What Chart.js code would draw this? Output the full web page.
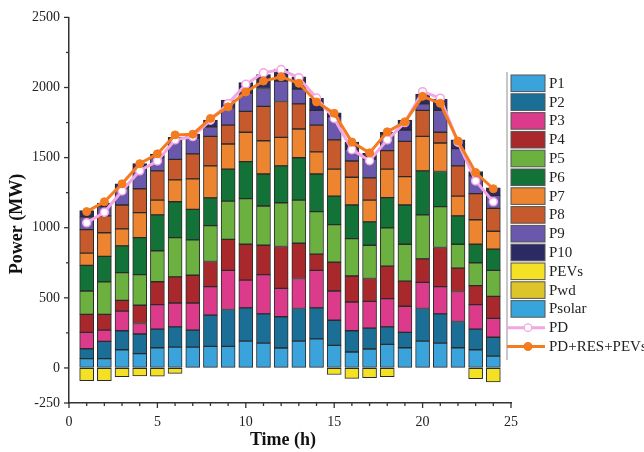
<!DOCTYPE html>
<html lang="en">
<head>
  <meta charset="UTF-8">
  <title>Hourly power dispatch</title>
  <script src="https://cdn.jsdelivr.net/npm/chart.js"></script>
  <style>
    body, html {
      width: 644px;
      height: 452px;
      margin: 0;
      padding: 0;
      overflow: hidden;
      background: #fff;
    }
    #chart { display: block; }
  </style>
</head>
<body>
  <canvas id="chart" width="644" height="452"></canvas>

  <script>
    // hours 1..24, values in MW
    const hours = [1, 2, 3, 4, 5, 6, 7, 8, 9, 10, 11, 12, 13, 14, 15, 16, 17, 18, 19, 20, 21, 22, 23, 24];

    const P1  = [67, 67, 130, 102, 144, 149, 149, 154, 154, 191, 177, 142, 191, 207, 161, 114, 135, 168, 144, 191, 177, 144, 130, 84];
    const P2  = [70, 123, 135, 140, 133, 144, 121, 223, 263, 237, 209, 223, 233, 221, 179, 151, 149, 125, 110, 233, 209, 187, 147, 135];
    const P3  = [117, 80, 140, 75, 175, 170, 193, 203, 279, 198, 280, 203, 214, 268, 209, 205, 191, 201, 186, 186, 194, 214, 175, 135];
    const P4  = [128, 112, 77, 130, 163, 187, 198, 179, 221, 256, 209, 298, 251, 116, 205, 186, 163, 232, 179, 168, 279, 167, 135, 156];
    const P5  = [167, 232, 198, 219, 221, 279, 252, 256, 273, 326, 280, 312, 308, 303, 268, 266, 237, 273, 263, 314, 291, 170, 163, 186];
    const P6  = [182, 182, 191, 263, 256, 256, 218, 198, 228, 263, 228, 263, 302, 268, 203, 240, 167, 216, 280, 314, 251, 203, 132, 151];
    const P7  = [88, 168, 121, 179, 105, 156, 217, 228, 179, 210, 237, 203, 205, 158, 193, 198, 155, 203, 202, 245, 203, 140, 175, 128];
    const P8  = [168, 121, 170, 170, 209, 147, 179, 210, 135, 149, 245, 256, 179, 191, 209, 116, 159, 132, 252, 186, 77, 216, 186, 163];
    const P9  = [90, 65, 118, 142, 94, 137, 113, 69, 118, 130, 128, 146, 105, 105, 163, 84, 134, 108, 81, 46, 156, 123, 128, 93];
    const P10 = [45, 25, 33, 37, 25, 19, 27, 47, 60, 75, 100, 86, 89, 86, 30, 51, 40, 23, 70, 70, 81, 63, 30, 54];
    const PEVs   = [-90, -90, -63, -56, -59, -39, 0, 0, 0, 0, 0, 0, 0, 0, -47, -74, -70, -63, 0, 0, 0, 0, -77, -100];
    const Pwd    = [0, 0, 0, 0, 0, 0, 0, 0, 0, 0, 0, 0, 0, 0, 0, 0, 0, 0, 0, 0, 0, 0, 0, 0];
    const Psolar = [0, 0, 0, 0, 0, 0, 0, 0, 0, 0, 0, 0, 0, 0, 0, 0, 0, 0, 0, 0, 0, 0, 0, 0];

    const PD    = [1035, 1110, 1262, 1406, 1476, 1627, 1650, 1767, 1885, 2023, 2105, 2128, 2070, 1925, 1779, 1557, 1478, 1627, 1750, 1970, 1924, 1610, 1334, 1185];
    const PDRES = [1115, 1185, 1313, 1457, 1527, 1662, 1667, 1779, 1862, 1968, 2046, 2077, 2030, 1897, 1816, 1611, 1534, 1684, 1755, 1937, 1887, 1618, 1394, 1278];

    const serif = "'Liberation Serif', 'Times New Roman', serif";
    Chart.defaults.font.family = serif;
    Chart.defaults.color = '#222';

    const barSeries = [
      ['P1', P1, '#3ba3dc'],
      ['P2', P2, '#1b6e96'],
      ['P3', P3, '#dc3a8a'],
      ['P4', P4, '#a8282c'],
      ['P5', P5, '#6cb040'],
      ['P6', P6, '#137238'],
      ['P7', P7, '#ec8430'],
      ['P8', P8, '#c65a2c'],
      ['P9', P9, '#6a58ad'],
      ['P10', P10, '#2b2a62'],
      ['PEVs', PEVs, '#f4e025'],
      ['Pwd', Pwd, '#dcc52a'],
      ['Psolar', Psolar, '#38a4dc']
    ];

    const datasets = barSeries.map(([label, data, color]) => ({
      type: 'bar',
      label: label,
      data: data,
      backgroundColor: color,
      borderColor: '#2b2b2b',
      borderWidth: 1,
      borderSkipped: false,
      barThickness: 14,
      stack: 'gen',
      order: 2
    }));

    datasets.push({
      type: 'line',
      label: 'PD',
      data: PD,
      stack: 'pd',
      order: 1,
      borderColor: '#f2a6e4',
      borderWidth: 3,
      pointRadius: 4,
      pointBackgroundColor: '#ffffff',
      pointBorderColor: '#f2a6e4',
      pointBorderWidth: 1.5,
      tension: 0
    });
    datasets.push({
      type: 'line',
      label: 'PD+RES+PEVs',
      data: PDRES,
      stack: 'pdres',
      order: 0,
      borderColor: '#f47b20',
      borderWidth: 3,
      pointRadius: 4,
      pointBackgroundColor: '#f47b20',
      pointBorderColor: '#f47b20',
      pointBorderWidth: 1,
      tension: 0
    });

    // outward tick marks, long on labelled values, short otherwise
    const tickMarks = {
      id: 'tickMarks',
      afterDraw(chart) {
        const { ctx, scales: { x, y } } = chart;
        ctx.save();
        ctx.strokeStyle = '#333';
        ctx.lineWidth = 1.3;
        y.ticks.forEach(t => {
          const py = y.getPixelForValue(t.value);
          const len = (t.value === -250 || t.value % 500 === 0) ? 5 : 3;
          ctx.beginPath();
          ctx.moveTo(y.right - len, py);
          ctx.lineTo(y.right, py);
          ctx.stroke();
        });
        x.ticks.forEach(t => {
          const px = x.getPixelForValue(t.value);
          const len = t.value % 5 === 0 ? 5 : 3;
          ctx.beginPath();
          ctx.moveTo(px, x.top);
          ctx.lineTo(px, x.top + len);
          ctx.stroke();
        });
        ctx.restore();
      }
    };

    const axisTitles = {
      id: 'axisTitles',
      afterDraw(chart) {
        const ctx = chart.ctx;
        ctx.save();
        ctx.fillStyle = '#111';
        ctx.font = 'bold 18px ' + serif;
        ctx.textAlign = 'center';
        ctx.textBaseline = 'middle';
        ctx.fillText('Time (h)', 283, 440);
        ctx.translate(17, 224);
        ctx.rotate(-Math.PI / 2);
        ctx.fillText('Power (MW)', 0, 0);
        ctx.restore();
      }
    };

    // legend box on the right, partly cut by the page edge
    const sideLegend = {
      id: 'sideLegend',
      afterDraw(chart) {
        const ctx = chart.ctx;
        const left = 507, top = 83.3, step = 18.8;
        ctx.save();
        ctx.strokeStyle = '#b5b5b5';
        ctx.lineWidth = 1.5;
        ctx.beginPath();
        ctx.moveTo(left, 72);
        ctx.lineTo(left, 360);
        ctx.stroke();

        ctx.font = '15px ' + serif;
        ctx.textBaseline = 'middle';
        ctx.textAlign = 'left';
        chart.data.datasets.forEach((ds, i) => {
          const cy = top + i * step;
          if (ds.type === 'bar') {
            ctx.fillStyle = ds.backgroundColor;
            ctx.fillRect(511, cy - 8.3, 34, 16.6);
            ctx.strokeStyle = '#555';
            ctx.lineWidth = 1;
            ctx.strokeRect(511, cy - 8.3, 34, 16.6);
          } else {
            ctx.strokeStyle = ds.borderColor;
            ctx.lineWidth = 3;
            ctx.beginPath();
            ctx.moveTo(left, cy);
            ctx.lineTo(545, cy);
            ctx.stroke();
            ctx.beginPath();
            ctx.arc(528, cy, 3.8, 0, Math.PI * 2);
            ctx.fillStyle = ds.pointBackgroundColor;
            ctx.fill();
            ctx.lineWidth = 1.3;
            ctx.strokeStyle = ds.pointBorderColor;
            ctx.stroke();
          }
          ctx.fillStyle = '#222';
          ctx.fillText(ds.label, 549, cy + 0.5);
        });
        ctx.restore();
      }
    };

    new Chart(document.getElementById('chart'), {
      type: 'bar',
      data: { labels: hours, datasets: datasets },
      options: {
        responsive: false,
        animation: false,
        layout: { padding: { left: 0, right: 133, top: 10, bottom: 0 } },
        plugins: {
          legend: { display: false },
          tooltip: { enabled: false }
        },
        scales: {
          x: {
            type: 'linear',
            min: 0,
            max: 25,
            offset: false,
            ticks: {
              stepSize: 1,
              autoSkip: false,
              maxRotation: 0,
              padding: 11,
              font: { size: 14 },
              callback: v => (v % 5 === 0 ? v : '')
            },
            grid: { display: true, drawOnChartArea: false, drawTicks: false, offset: false },
            border: { color: '#333', width: 1.5 },
            afterFit: s => { s.height = 49; }
          },
          y: {
            min: -250,
            max: 2500,
            stacked: true,
            ticks: {
              stepSize: 250,
              padding: 9,
              font: { size: 14 },
              callback: v => ((v === -250 || v % 500 === 0) ? v : '')
            },
            grid: { display: true, drawOnChartArea: false, drawTicks: false },
            border: { color: '#333', width: 1.5 },
            afterFit: s => { s.width = 69; }
          }
        }
      },
      plugins: [tickMarks, axisTitles, sideLegend]
    });
  </script>
</body>
</html>
